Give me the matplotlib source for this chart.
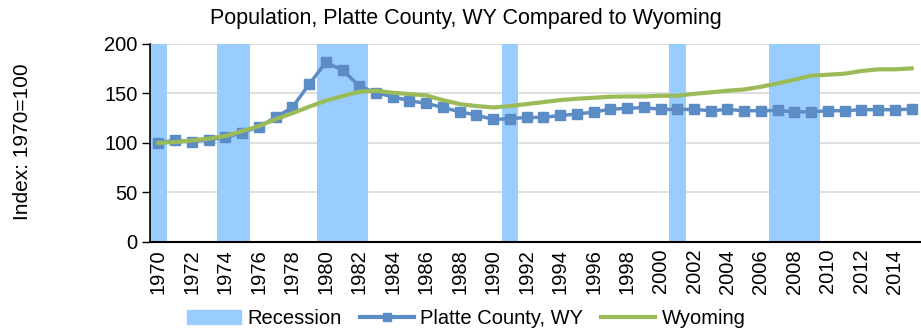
import numpy as np
import matplotlib.pyplot as plt
from matplotlib.patches import Patch
from matplotlib.lines import Line2D

plt.rcParams['font.family'] = ['Liberation Sans', 'DejaVu Sans']

years = list(range(1970, 2016))
recession_years = [1970, 1974, 1975, 1980, 1981, 1982, 1991, 2001, 2007, 2008, 2009]

platte = [100.0, 102.9, 101.2, 103.5, 105.6, 110.3, 116.4, 125.8, 135.9, 159.2,
          181.4, 173.7, 157.5, 150.8, 146.7, 142.7, 140.0, 135.9, 131.5, 128.2,
          123.8, 124.5, 125.8, 125.8, 127.8, 129.2, 131.2, 134.2, 134.9, 135.9,
          133.9, 133.9, 133.9, 132.6, 133.9, 132.6, 132.6, 132.9, 131.5, 131.5,
          132.6, 132.6, 133.6, 133.6, 133.6, 134.2]
wyoming = [100.0, 101.0, 102.5, 104.5, 107.0, 112.0, 117.0, 124.0, 130.0, 136.6,
           142.7, 147.4, 151.8, 152.8, 150.8, 149.4, 148.1, 143.3, 139.3, 137.3,
           135.9, 137.3, 139.3, 141.3, 143.3, 144.7, 145.7, 146.7, 147.0, 147.0,
           147.7, 147.7, 149.7, 151.1, 152.8, 154.1, 156.8, 160.2, 163.9, 168.0,
           169.0, 170.0, 172.7, 174.4, 174.4, 175.4]

blue = '#5b8cc6'
green = '#9bbb59'
rec_color = '#99ccff'
fs = 14.5

x = np.arange(len(years))
rec_x = [years.index(y) for y in recession_years]
rec_h = [200] * len(rec_x)

fig = plt.figure(figsize=(9.21, 3.3), dpi=100)
ax = fig.add_axes([0.1629, 0.2667, 0.8360, 0.6])

ax.bar(rec_x, rec_h, width=1.0, color=rec_color, zorder=1)
ax.plot(x, platte, color=blue, lw=2.5, marker='s', markersize=6.5, zorder=3)
ax.plot(x, wyoming, color=green, lw=3, zorder=4)

ax.set_xlim(-0.5, len(years) - 0.5)
ax.set_ylim(0, 200)
ax.set_yticks([0, 50, 100, 150, 200])
ax.yaxis.grid(True, color='#d9d9d9', lw=1.2, zorder=0)
ax.set_axisbelow(True)

ax.set_xticks(x[::2])
ax.set_xticklabels([str(y) for y in years[::2]], rotation=90, fontsize=fs)
ax.tick_params(axis='x', length=0, pad=5)
ax.tick_params(axis='y', labelsize=fs, length=6, width=1, direction='out', pad=3)

for side in ['top', 'right']:
    ax.spines[side].set_visible(False)
ax.spines['left'].set_linewidth(1.2)
ax.spines['bottom'].set_linewidth(1.5)

fig.text(0.506, 0.945, 'Population, Platte County, WY Compared to Wyoming',
         fontsize=15.5, ha='center', va='center')
fig.text(0.024, 0.57, 'Index: 1970=100', rotation=90, fontsize=15, va='center', ha='center')

handles = [Patch(color=rec_color, label='Recession'),
           Line2D([], [], color=blue, lw=3, marker='s', markersize=6, label='Platte County, WY'),
           Line2D([], [], color=green, lw=3, label='Wyoming')]
fig.legend(handles=handles, loc='center', bbox_to_anchor=(0.506, 0.036), ncol=3,
           frameon=False, fontsize=fs, handlelength=2.7, handletextpad=0.3,
           columnspacing=0.9, borderaxespad=0)

fig.savefig('out.png', dpi=100)
